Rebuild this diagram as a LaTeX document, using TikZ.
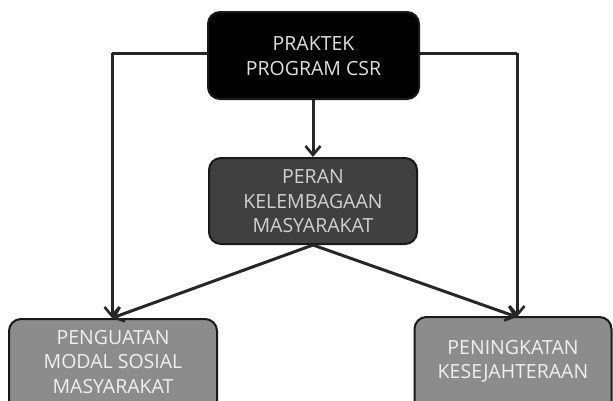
\documentclass[tikz,border=0pt]{standalone}
\usepackage{fontspec}
\setmainfont{Open Sans}
\usetikzlibrary{arrows.meta}
\begin{document}
\begin{tikzpicture}[x=1pt,y=-1pt,
  box/.style={draw=black!90, line width=2pt, rounded corners=12pt, inner sep=0pt},
  lbl/.style={align=center, text=white!88!black, font=\fontsize{19.5}{24.5}\selectfont, inner sep=0pt},
  conn/.style={draw=black!85, line width=3pt,
    -{Straight Barb[length=9pt,width=15pt,line width=2.6pt]}},
  plain/.style={draw=black!85, line width=3pt}]
\useasboundingbox (0,0) rectangle (613,400);
\node[box, fill=black, minimum width=211pt, minimum height=87pt] (top) at (313.5,55.5) {};
\node[lbl] at (313.5,56) {PRAKTEK\\PROGRAM CSR};
\node[box, fill=black!75, minimum width=208pt, minimum height=86pt] (mid) at (313,201) {};
\node[lbl, text=white!82!black] at (313,201.5) {PERAN\\KELEMBAGAAN\\MASYARAKAT};
\node[box, fill=black!45, minimum width=208pt, minimum height=100pt] (bl) at (113,369) {};
\node[lbl, text=white!94!black] at (113,362) {PENGUATAN\\MODAL SOSIAL\\MASYARAKAT};
\node[box, fill=black!45, minimum width=197pt, minimum height=100pt] (br) at (513,367) {};
\node[lbl, text=white!94!black] at (513,361.5) {PENINGKATAN\\KESEJAHTERAAN};
\coordinate (lc) at (112,53);
\coordinate (rc) at (517,53);
\coordinate (bltop) at (112,318);
\coordinate (brtop) at (517,317);
\draw[plain] (top.west |- lc) -- (lc);
\draw[conn] (lc) -- (bltop);
\draw[plain] (top.east |- rc) -- (rc);
\draw[conn] (rc) -- (brtop);
\draw[conn] (top.south -| mid.north) -- (mid.north);
\draw[conn] (mid.south) -- (bltop);
\draw[conn] (mid.south) -- (brtop);
\end{tikzpicture}
\end{document}
